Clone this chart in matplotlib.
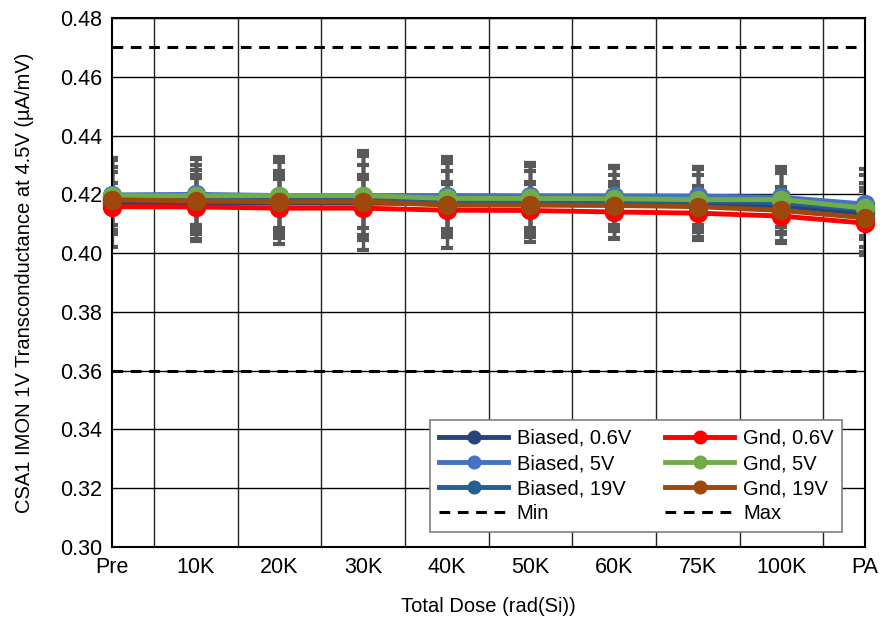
import numpy as np
import matplotlib
matplotlib.use('Agg')
import matplotlib.pyplot as plt
from matplotlib.ticker import MultipleLocator

plt.rcParams['font.family'] = ['Liberation Sans', 'DejaVu Sans']

# dose steps on the x axis
doses = ['Pre', '10K', '20K', '30K', '40K', '50K', '60K', '75K', '100K', 'PA']

# mean transconductance per condition (uA/mV)
biased_06 = [0.4172, 0.4170, 0.4170, 0.4170, 0.4168, 0.4168, 0.4168, 0.4165, 0.4160, 0.4135]
biased_5 = [0.4198, 0.4200, 0.4196, 0.4196, 0.4196, 0.4195, 0.4195, 0.4194, 0.4190, 0.4167]
biased_19 = [0.4185, 0.4182, 0.4180, 0.4180, 0.4178, 0.4178, 0.4177, 0.4176, 0.4172, 0.4147]
gnd_06 = [0.4158, 0.4157, 0.4153, 0.4153, 0.4146, 0.4145, 0.4140, 0.4136, 0.4126, 0.4102]
gnd_5 = [0.4195, 0.4195, 0.4196, 0.4196, 0.4186, 0.4186, 0.4185, 0.4182, 0.4182, 0.4153]
gnd_19 = [0.4182, 0.4177, 0.4175, 0.4175, 0.4163, 0.4163, 0.4162, 0.4158, 0.4145, 0.4120]

# spread per condition
err_b06 = [0.015, 0.013, 0.014, 0.016, 0.015, 0.013, 0.012, 0.012, 0.012, 0.013]
err_b5 = [0.012, 0.012, 0.013, 0.015, 0.013, 0.011, 0.010, 0.010, 0.010, 0.012]
err_b19 = [0.009, 0.010, 0.010, 0.012, 0.010, 0.010, 0.009, 0.009, 0.010, 0.009]
err_g06 = [0.008, 0.011, 0.010, 0.010, 0.009, 0.009, 0.009, 0.008, 0.009, 0.011]
err_g5 = [0.013, 0.013, 0.012, 0.014, 0.012, 0.012, 0.011, 0.011, 0.011, 0.007]
err_g19 = [0.011, 0.008, 0.009, 0.009, 0.008, 0.008, 0.008, 0.007, 0.008, 0.010]

spec_min = 0.36
spec_max = 0.47

series = [
    ('Biased, 0.6V', biased_06, err_b06, '#264478'),
    ('Biased, 5V', biased_5, err_b5, '#4472C4'),
    ('Biased, 19V', biased_19, err_b19, '#255E91'),
    ('Gnd, 0.6V', gnd_06, err_g06, '#FF0000'),
    ('Gnd, 5V', gnd_5, err_g5, '#70AD47'),
    ('Gnd, 19V', gnd_19, err_g19, '#9E480E'),
]


def main():
    fig = plt.figure(figsize=(8.8, 6.17), dpi=100)
    ax = fig.add_axes([0.1273, 0.1135, 0.8557, 0.8573])
    x = np.arange(len(doses))

    # error bars sit underneath all the lines
    for name, vals, err, col in series:
        ax.errorbar(x, vals, yerr=err, fmt='none', ecolor='#595959',
                    elinewidth=2.5, capsize=4.5, capthick=3, zorder=2)

    handles = {}
    for i, (name, vals, err, col) in enumerate(series):
        h, = ax.plot(x, vals, '-o', color=col, lw=3.5, ms=13,
                     label=name, zorder=3 + i, clip_on=False)
        handles[name] = h

    hmin = ax.axhline(spec_min, color='black', lw=2.2, ls=(0, (3.5, 2.5)),
                      label='Min', zorder=2.5)
    hmax = ax.axhline(spec_max, color='black', lw=2.2, ls=(0, (3.5, 2.5)),
                      label='Max', zorder=2.5)

    ax.set_xlim(0, len(doses) - 1)
    ax.set_ylim(0.30, 0.48)
    ax.set_xticks(x)
    ax.set_xticklabels(doses)
    ax.xaxis.set_minor_locator(MultipleLocator(0.5))
    ax.yaxis.set_major_locator(MultipleLocator(0.02))
    ax.yaxis.set_major_formatter(plt.FormatStrFormatter('%.2f'))
    ax.tick_params(which='both', length=0, labelsize=15.5, pad=7)
    ax.grid(axis='x', which='minor', color='#222222', lw=1.0)
    ax.grid(axis='y', which='major', color='black', lw=1.0)
    ax.set_axisbelow(True)
    for s in ax.spines.values():
        s.set_linewidth(1.5)
        s.set_color('black')

    ax.set_xlabel('Total Dose (rad(Si))', fontsize=14.5, labelpad=14)
    ax.set_ylabel('CSA1 IMON 1V Transconductance at 4.5V (µA/mV)',
                  fontsize=14.5, labelpad=19)

    order = ['Biased, 0.6V', 'Biased, 5V', 'Biased, 19V']
    gnd = ['Gnd, 0.6V', 'Gnd, 5V', 'Gnd, 19V']
    hs = [handles[n] for n in order] + [hmin] + [handles[n] for n in gnd] + [hmax]
    labs = order + ['Min'] + gnd + ['Max']
    leg = ax.legend(hs, labs, ncol=2, loc='lower right',
                    bbox_to_anchor=(0.97, 0.028), borderaxespad=0,
                    fontsize=14.5, frameon=True, fancybox=False,
                    edgecolor='#7f7f7f', framealpha=1, handlelength=3.4,
                    columnspacing=1.7, labelspacing=0.3, handletextpad=0.45,
                    borderpad=0.45, markerscale=0.7)
    leg.get_frame().set_linewidth(1.2)
    leg.set_zorder(20)

    fig.savefig('out.png', dpi=100)
    plt.close(fig)


if __name__ == '__main__':
    main()
